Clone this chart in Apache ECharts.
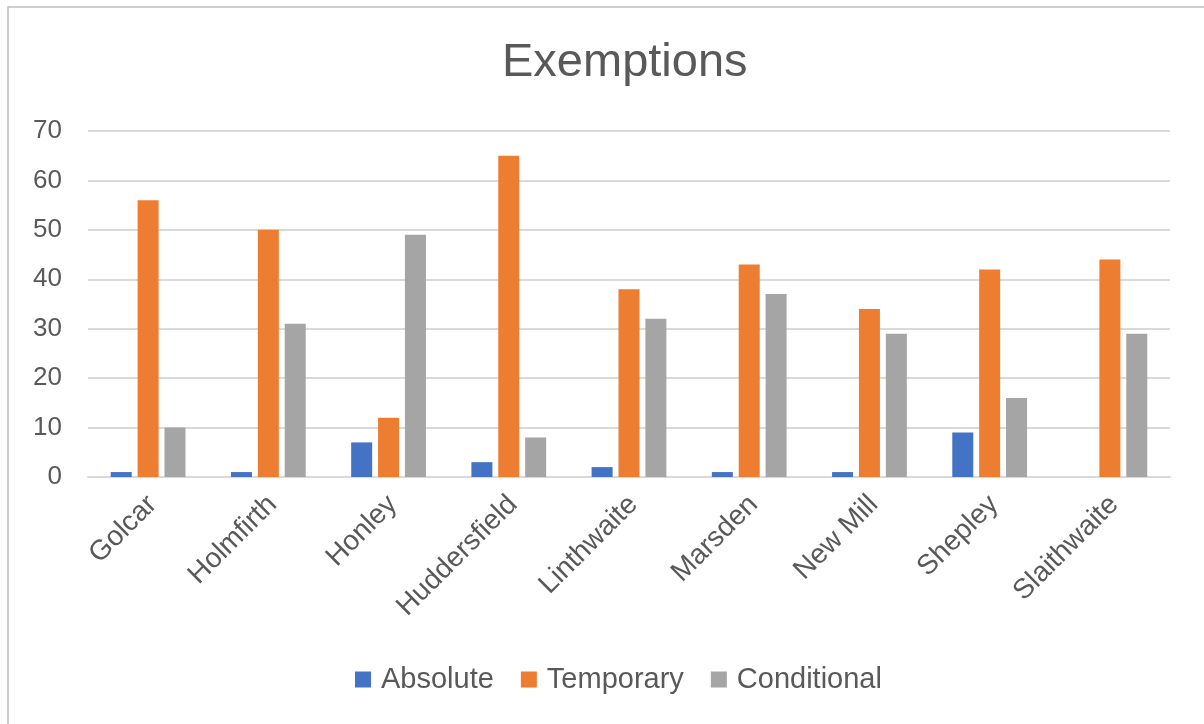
<!DOCTYPE html>
<html>
<head>
<meta charset="utf-8">
<title>Exemptions</title>
<script src="https://cdn.jsdelivr.net/npm/echarts@6/dist/echarts.min.js"></script>
<style>
  html, body { margin: 0; padding: 0; background: #ffffff; }
  #chart { width: 1204px; height: 724px; }
</style>
</head>
<body>
<div id="chart"></div>
<script>
// Districts along the category axis
const districts = ['Golcar', 'Holmfirth', 'Honley', 'Huddersfield', 'Linthwaite', 'Marsden', 'New Mill', 'Shepley', 'Slaithwaite'];

// Exemption counts per district
const absolute    = [1, 1, 7, 3, 2, 1, 1, 9, 0];
const temporary   = [56, 50, 12, 65, 38, 43, 34, 42, 44];
const conditional = [10, 31, 49, 8, 32, 37, 29, 16, 29];

// Value axis ticks
const yTicks = [0, 10, 20, 30, 40, 50, 60, 70];

const FONT = '"Liberation Sans", Arial, Helvetica, sans-serif';
const TEXT = '#595959';
const GRID = '#d9d9d9';

const chart = echarts.init(document.getElementById('chart'), null, { renderer: 'canvas' });

function barSeries(name, data, color) {
  return {
    name: name,
    type: 'bar',
    data: data,
    barWidth: 21,
    barGap: '28%',
    itemStyle: { color: color },
    emphasis: { disabled: true }
  };
}

chart.setOption({
  animation: false,
  backgroundColor: '#ffffff',
  graphic: [{
    type: 'rect',
    silent: true,
    shape: { x: 8, y: 7, width: 1400, height: 900 },
    style: { fill: 'none', stroke: '#bfbfbf', lineWidth: 1.5 },
    z: 100
  }],
  title: {
    text: 'Exemptions',
    left: 497,
    top: 35,
    textStyle: { fontFamily: FONT, fontSize: 47, fontWeight: 'normal', color: TEXT }
  },
  legend: {
    top: 660,
    left: 350,
    itemWidth: 16,
    itemHeight: 16,
    itemGap: 27,
    icon: 'rect',
    textStyle: { fontFamily: FONT, fontSize: 29, color: TEXT, padding: [0, 0, 0, 5] },
    data: ['Absolute', 'Temporary', 'Conditional']
  },
  grid: { left: 88, right: 34, top: 131, bottom: 247, containLabel: false },
  xAxis: {
    type: 'category',
    data: districts,
    axisLine: { lineStyle: { color: GRID, width: 2 } },
    axisTick: { show: false },
    axisLabel: {
      rotate: 45,
      margin: 19,
      interval: 0,
      verticalAlign: 'top',
      lineHeight: 12,
      fontFamily: FONT,
      fontSize: 28,
      color: TEXT
    }
  },
  yAxis: {
    type: 'value',
    min: yTicks[0],
    max: yTicks[yTicks.length - 1],
    interval: yTicks[1] - yTicks[0],
    axisLine: { show: false },
    axisTick: { show: false },
    splitLine: { lineStyle: { color: GRID, width: 2 } },
    axisLabel: { margin: 26, fontFamily: FONT, fontSize: 26, color: TEXT }
  },
  series: [
    barSeries('Absolute', absolute, '#4472c4'),
    barSeries('Temporary', temporary, '#ed7d31'),
    barSeries('Conditional', conditional, '#a5a5a5')
  ]
});
</script>
</body>
</html>
